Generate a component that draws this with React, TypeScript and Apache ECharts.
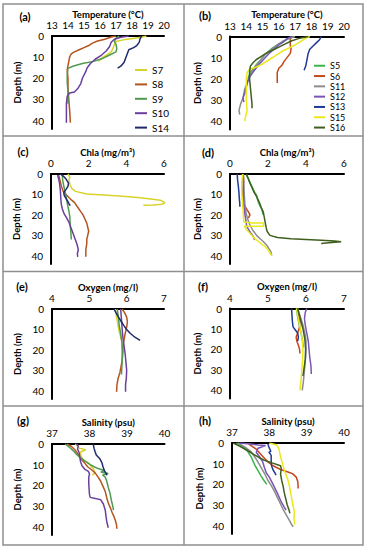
import React, { useEffect, useRef } from "react";
import * as echarts from "echarts";

// ---------- Data: [value, depth (m)] ----------
// Temperature (°C) – panel (a)
const tempS7 = [[18.9,0],[18.6,0.6],[17.6,1.6],[17.0,2.6],[16.9,4],[16.8,6],[16.7,7.5],[16.4,9],[16.1,10.5],[15.9,12]];
const tempS8 = [[17.0,0],[16.7,0.5],[16.3,1.5],[15.8,2.5],[15.5,3.5],[15.3,4.5],[15.0,5.5],[14.7,6.5],[14.4,7.5],[14.2,8.5],[14.1,10],[14.05,12],[14.0,14],[13.95,16],[14.0,20],[14.0,25],[14.05,30],[14.1,35],[14.15,41]];
const tempS9 = [[17.2,0],[17.0,1],[16.9,2.5],[17.0,4],[17.05,6],[17.0,7.5],[16.6,9],[16.2,10.5],[15.6,12],[14.9,13],[14.3,14.3],[14.0,15.3],[13.95,18],[13.95,22],[14.0,26],[14.0,32]];
const tempS10 = [[17.8,0],[17.3,0.6],[16.9,1.5],[16.7,3],[16.6,5],[16.4,7],[16.1,9],[15.7,11],[15.4,13],[15.2,15],[15.1,17],[14.9,20],[14.8,22.5],[14.6,25],[14.4,26.5],[14.1,27],[13.95,28.5],[13.9,32],[13.9,36],[13.9,41]];
const tempS14 = [[18.6,0],[18.5,1.5],[18.45,3],[18.3,4.5],[18.1,5.5],[17.8,6.5],[17.7,8.5],[17.6,10.5],[17.5,12.5],[17.3,14.3],[17.1,15.2]];
// Temperature – panel (b)
const tempS5 = [[16.9,0],[16.6,1],[16.2,2.5],[15.9,4],[15.6,5.5],[15.3,7.5],[15.1,9],[14.9,11],[14.7,12.5],[14.5,14.5],[14.3,16.5],[14.2,18],[14.1,20]];
const tempS6 = [[16.8,0],[16.7,1.5],[16.7,4],[16.75,6],[16.7,8],[16.5,10],[16.3,12],[16.2,13.5],[16.0,15],[15.9,17],[15.9,19.5],[15.9,22]];
const tempS11 = [[17.0,0],[16.6,1],[16.2,2.5],[15.8,4.5],[15.4,7],[15.1,9],[14.8,12],[14.5,15],[14.3,18],[14.1,21],[13.9,25],[13.8,29],[13.65,32],[13.55,35],[13.6,37]];
const tempS12 = [[16.8,0],[16.5,1],[16.3,2.5],[16.0,4],[15.7,6],[15.4,8],[15.1,10.5],[14.8,13],[14.6,15],[14.4,17],[14.2,19],[14.1,21],[14.0,24],[13.9,27],[13.8,29],[13.85,31]];
const tempS13 = [[18.6,0],[18.5,1.5],[18.3,3],[18.1,4.5],[17.9,6],[17.8,8],[17.75,10],[17.7,12],[17.65,14],[17.55,16]];
const tempS15 = [[17.9,0],[17.6,1],[17.3,2.5],[17.0,4],[16.6,5.5],[16.2,7],[15.8,9],[15.4,11],[15.0,13],[14.6,14.5],[14.2,15.5],[14.05,17],[14.0,20],[14.0,25],[14.0,30],[14.05,35],[13.95,38],[13.9,40]];
const tempS16 = [[17.8,0],[17.2,1],[16.8,2],[16.4,3.5],[16.0,5],[15.6,6.5],[15.2,8],[14.9,9.5],[14.6,11],[14.4,12.5],[14.25,14],[14.2,17],[14.2,20],[14.25,24],[14.3,28],[14.35,32],[14.35,34]];

// Chla (mg/m3) – panel (c)
const chlaS7 = [[0.9,0],[1.0,1.5],[0.95,3],[1.0,5],[1.1,7],[1.3,8.5],[1.9,9.8],[3.0,10.4],[3.8,10.9],[4.6,11.5],[5.3,12.2],[5.8,12.8],[6.05,14],[5.9,14.8],[5.4,15.2],[4.9,15.3]];
const chlaS8 = [[0.4,0.5],[0.45,2],[0.5,4],[0.55,6],[0.65,8.5],[0.8,10],[0.95,11.5],[1.1,12.8],[1.25,14],[1.4,16],[1.55,18],[1.7,20],[1.8,22],[1.9,24],[1.95,26],[2.0,28],[1.95,30],[1.9,32],[1.9,34],[1.85,37],[1.85,40.5]];
const chlaS9 = [[0.6,0.5],[0.62,3],[0.68,6],[0.75,9],[0.8,11],[0.85,13.5],[0.9,16],[0.95,18],[1.0,21],[1.02,25],[1.05,28],[1.08,32]];
const chlaS10 = [[0.35,0.5],[0.42,3],[0.46,5],[0.5,8.5],[0.52,12],[0.55,15],[0.6,17],[0.7,19.5],[0.8,21],[0.95,23.5],[1.05,26],[1.15,28.5],[1.25,31],[1.33,33],[1.4,35],[1.45,37],[1.4,39],[1.42,40.5]];
const chlaS14 = [[0.5,0],[0.65,1],[0.8,2.5],[0.93,4.5],[0.9,6],[0.8,7.5],[0.68,9],[0.7,10.5],[0.8,12],[0.9,13.5],[0.95,14.5],[1.02,15.5]];
// Chla – panel (d)
const chlaS5 = [[0.85,0.5],[0.95,2],[1.05,4],[1.15,6],[1.22,7.5],[1.3,9],[1.4,10.5],[1.45,12.5],[1.5,14],[1.6,16],[1.68,17.5],[1.72,19],[1.75,20]];
const chlaS6 = [[0.7,0],[0.72,3],[0.7,7],[0.67,10],[0.66,12.5],[0.72,14.5],[0.8,16],[0.9,17.5],[1.0,19],[1.05,20],[0.97,21.5]];
const chlaS11 = [[0.7,0],[0.73,5],[0.75,10],[0.78,14],[0.8,17],[0.87,20],[0.95,22.5],[1.05,25],[1.2,27.5],[1.4,30],[1.6,31.8],[1.75,33],[1.95,35],[2.05,36.5],[2.15,38],[2.2,39.8]];
const chlaS12 = [[0.66,0],[0.7,5],[0.7,10],[0.72,15],[0.79,20],[0.84,23],[0.88,25.5],[1.0,27.5],[1.1,29],[1.22,30.5],[1.3,32.3]];
const chlaS13 = [[0.38,0],[0.4,3],[0.44,6],[0.47,9],[0.49,12],[0.51,14],[0.52,16]];
const chlaS15 = [[0.66,0],[0.62,4],[0.61,7],[0.63,10],[0.66,13.5],[0.68,17],[0.7,20],[0.73,23.5],[1.2,24],[1.75,24],[1.78,25.5],[0.75,25.5],[0.85,27],[1.0,28.5],[1.14,30],[1.35,32],[1.5,33],[1.7,34.5],[1.85,35.5],[2.0,37],[2.1,38.5],[2.2,40]];
const chlaS16 = [[0.87,0],[0.95,2],[1.05,4.5],[1.15,6.5],[1.22,8],[1.3,9.5],[1.4,11],[1.5,13],[1.57,14.5],[1.65,16.5],[1.75,18.5],[1.8,21],[1.84,23],[1.9,26],[1.95,28],[2.1,30],[2.5,31],[3.2,31.7],[4.0,32],[4.8,32.4],[5.5,32.8],[5.85,33.1],[5.2,33.6],[4.8,34]];

// Oxygen (mg/l) – panel (e)
const oxyS7 = [[5.7,0],[5.72,3],[5.75,6],[5.78,9],[5.8,11],[5.83,13],[5.85,15]];
const oxyS8 = [[5.88,0],[5.95,2],[6.0,4],[6.02,6],[6.0,9],[5.96,12],[5.93,15],[5.9,18],[5.9,21],[5.88,25],[5.85,28],[5.82,31],[5.77,34],[5.74,37],[5.73,40.5]];
const oxyS9 = [[5.75,0],[5.78,4],[5.8,8],[5.84,12],[5.87,16],[5.88,20],[5.88,25],[5.87,29],[5.86,32]];
const oxyS10 = [[5.84,0],[5.86,5],[5.88,10],[5.9,14],[5.93,18],[5.96,22],[5.98,26],[6.0,30],[5.99,34],[5.97,37],[5.97,40.5]];
const oxyS14 = [[5.66,0],[5.72,2],[5.78,4],[5.85,6],[5.92,8],[6.0,10],[6.1,12],[6.22,13.8],[6.36,15.3]];
// Oxygen – panel (f)
const oxyS5 = [[5.75,0],[5.78,4],[5.82,8],[5.87,12],[5.91,16],[5.93,19]];
const oxyS6 = [[5.78,0],[5.8,3],[5.84,6],[5.83,9],[5.78,12],[5.74,14],[5.76,16],[5.8,18],[5.83,20],[5.84,22]];
const oxyS11 = [[5.78,0],[5.85,4],[5.92,8],[5.97,12],[6.0,16],[6.0,20],[5.99,24],[5.97,28],[5.95,32],[5.93,36],[5.9,40]];
const oxyS12 = [[6.02,0],[5.98,2],[5.96,5],[5.98,8],[6.02,12],[6.06,16],[6.08,20],[6.1,24],[6.13,28],[6.14,32]];
const oxyS13 = [[5.62,0],[5.63,3],[5.64,6],[5.66,9],[5.72,10.5],[5.78,12],[5.8,14],[5.78,16]];
const oxyS15 = [[5.75,0],[5.8,5],[5.85,10],[5.9,15],[5.92,20],[5.91,25],[5.89,30],[5.87,35],[5.84,40]];
const oxyS16 = [[5.78,0],[5.85,5],[5.92,10],[5.97,15],[5.99,20],[5.98,25],[5.95,29],[5.92,33]];

// Salinity (psu) – panel (g)
const salS7 = [[37.62,0],[37.68,1],[37.72,2],[37.9,2.8],[37.75,4],[37.78,6],[37.84,7.8],[37.98,9.3],[38.03,10.5],[38.1,12],[38.15,14],[38.07,15]];
const salS8 = [[37.4,0],[37.52,1.2],[37.62,3],[37.7,5],[37.76,7],[37.86,9],[37.95,11],[38.08,12.8],[38.16,14.2],[38.23,16],[38.3,18],[38.36,20.5],[38.42,23],[38.46,26],[38.5,28.5],[38.56,31],[38.6,33],[38.65,35],[38.69,37],[38.72,39],[38.73,41]];
const salS9 = [[37.35,0],[37.48,1.8],[37.58,3.5],[37.67,5.3],[37.78,7],[37.9,8.5],[38.02,10],[38.12,11],[38.25,12],[38.4,12.8],[38.3,13.6],[38.5,14.3],[38.35,15],[38.42,16],[38.46,18],[38.5,21],[38.55,24],[38.58,27],[38.62,30],[38.64,32]];
const salS10 = [[37.65,0],[37.7,1],[37.68,2.5],[37.72,4],[37.74,6],[37.76,8.5],[37.8,10.5],[37.88,12.3],[37.97,13.2],[38.0,14.5],[37.98,16],[37.98,19],[37.99,22],[38.0,24.5],[38.02,25.8],[38.15,26.3],[38.3,27],[38.37,29],[38.42,32],[38.44,35],[38.46,37.5],[38.5,40.5]];
const salS14 = [[38.1,0],[38.12,2],[38.15,3.7],[38.18,5.3],[38.27,7],[38.33,9],[38.36,11],[38.4,13],[38.45,14.3],[38.46,15.2]];
// Salinity – panel (h)
const salS5 = [[37.12,0],[37.3,2],[37.42,4],[37.52,7],[37.58,9.5],[37.62,11],[37.7,13.5],[37.78,16],[37.87,18.5],[37.93,20]];
const salS6 = [[37.45,0.5],[37.65,3],[37.8,6],[37.95,9],[38.1,11],[38.3,12.8],[38.5,14],[38.62,14.8],[38.72,16.5],[38.76,18.5],[38.77,20.5],[38.77,22]];
const salS11 = [[37.16,0],[37.35,2],[37.5,4],[37.62,7],[37.72,10],[37.8,12.5],[37.88,15],[37.96,18],[38.05,20.5],[38.14,23.5],[38.22,26.5],[38.3,29.5],[38.38,32.5],[38.46,35],[38.54,37.5],[38.6,39.5],[38.64,40.5]];
const salS12 = [[37.2,0],[37.5,0.5],[37.7,1],[37.9,1.2],[37.7,2.5],[37.65,4.5],[37.75,7],[37.82,9],[37.87,12],[37.92,14.5],[38.0,16.5],[38.1,20],[38.22,24.5],[38.32,28.5],[38.4,31],[38.45,32.5]];
const salS13 = [[37.96,0.5],[38.0,2.5],[38.04,4],[37.99,4.5],[38.05,6],[38.05,9],[38.06,11],[38.1,13],[38.15,14.5],[38.18,15.5]];
const salS15 = [[38.0,0],[38.2,1],[38.26,3],[38.28,5],[38.32,8],[38.36,10.5],[38.4,13],[38.45,15.5],[38.5,18],[38.54,21],[38.57,24],[38.6,27],[38.63,30],[38.67,33],[38.66,36],[38.68,39.5]];
const salS16 = [[37.03,0],[37.2,1.5],[37.4,3.5],[37.58,5.5],[37.72,7],[37.85,8.2],[38.05,9.5],[38.3,11],[38.32,12.5],[38.3,15],[38.33,18],[38.37,21],[38.4,24],[38.44,27],[38.48,30],[38.53,32.5],[38.55,34]];

// Stations and axis settings
const stationsLeft = ["S7", "S8", "S9", "S10", "S14"];
const stationsRight = ["S5", "S6", "S11", "S12", "S13", "S15", "S16"];
const panelLetters = ["(a)", "(b)", "(c)", "(d)", "(e)", "(f)", "(g)", "(h)"];
const axisTitles = ["Temperature (°C)", "Chla (mg/m³)", "Oxygen (mg/l)", "Salinity (psu)"];
const axisMin = [13, 0, 4, 37];
const axisMax = [20, 6, 7, 40];
const axisStep = [1, 2, 1, 1];
const depthMax = 44;
const depthStep = 10;

const colors: Record<string, string> = {
  S7: "#d9d22a", S8: "#b4541f", S9: "#4f9a4f", S10: "#6a3f9e", S14: "#1e2a6c",
  S5: "#3db44b", S6: "#c4471c", S11: "#8c8c8c", S12: "#7a55b6", S13: "#1f3a94",
  S15: "#ebe81c", S16: "#3f5f1f",
};

const leftData = [
  [tempS7, tempS8, tempS9, tempS10, tempS14],
  [chlaS7, chlaS8, chlaS9, chlaS10, chlaS14],
  [oxyS7, oxyS8, oxyS9, oxyS10, oxyS14],
  [salS7, salS8, salS9, salS10, salS14],
];
const rightData = [
  [tempS5, tempS6, tempS11, tempS12, tempS13, tempS15, tempS16],
  [chlaS5, chlaS6, chlaS11, chlaS12, chlaS13, chlaS15, chlaS16],
  [oxyS5, oxyS6, oxyS11, oxyS12, oxyS13, oxyS15, oxyS16],
  [salS5, salS6, salS11, salS12, salS13, salS15, salS16],
];

const FONT = "Lato, 'Open Sans', sans-serif";

const grids = [
  { left: 52, top: 36, width: 112, height: 93 },
  { left: 230, top: 36.5, width: 114, height: 93 },
  { left: 51, top: 174, width: 113, height: 90 },
  { left: 230, top: 174, width: 114, height: 90 },
  { left: 52, top: 309, width: 112, height: 90 },
  { left: 230, top: 308.5, width: 114, height: 90 },
  { left: 52, top: 444, width: 112.5, height: 91 },
  { left: 232, top: 443, width: 112, height: 91 },
];
const letterPos = [
  [25, 16], [205, 15], [23, 151], [208, 152], [22, 286], [203, 286], [23, 420], [205, 420],
];

function buildOption() {
  const xAxis: any[] = [];
  const yAxis: any[] = [];
  const series: any[] = [];
  grids.forEach((g, i) => {
    const row = Math.floor(i / 2);
    xAxis.push({
      gridIndex: i,
      type: "value",
      position: "top",
      min: axisMin[row],
      max: axisMax[row],
      interval: axisStep[row],
      axisLine: { show: true, onZero: false, lineStyle: { color: "#000", width: 2 } },
      axisTick: { show: false },
      splitLine: { show: false },
      axisLabel: { color: "#000", fontSize: 10, margin: 6, fontFamily: FONT },
      name: axisTitles[row],
      nameLocation: "middle",
      nameGap: 17,
      nameTextStyle: { color: "#000", fontSize: 9.5, fontWeight: "bold", fontFamily: FONT },
    });
    yAxis.push({
      gridIndex: i,
      type: "value",
      inverse: true,
      min: 0,
      max: depthMax,
      interval: depthStep,
      axisLine: { show: true, onZero: false, lineStyle: { color: "#000", width: 2 } },
      axisTick: { show: false },
      splitLine: { show: false },
      axisLabel: {
        color: "#000", fontSize: 10, margin: 8, fontFamily: FONT,
        formatter: (v: number) => (v % depthStep === 0 ? String(v) : ""),
      },
      name: "Depth (m)",
      nameLocation: "middle",
      nameGap: i % 2 === 0 ? 30 : 28,
      nameRotate: 90,
      nameTextStyle: { color: "#000", fontSize: 9.5, fontWeight: "bold", fontFamily: FONT },
    });
    const names = i % 2 === 0 ? stationsLeft : stationsRight;
    const data = i % 2 === 0 ? leftData[row] : rightData[row];
    names.forEach((n, k) => {
      series.push({
        type: "line",
        name: n,
        xAxisIndex: i,
        yAxisIndex: i,
        data: data[k],
        symbol: "none",
        silent: true,
        lineStyle: { color: colors[n], width: 1.5 },
        itemStyle: { color: colors[n] },
      });
    });
  });

  const graphic: any[] = [
    { type: "rect", shape: { x: 3, y: 4, width: 360, height: 541 }, style: { fill: "none", stroke: "#8f8f8f", lineWidth: 1.5 }, silent: true },
    { type: "line", shape: { x1: 184, y1: 4, x2: 184, y2: 545 }, style: { stroke: "#8f8f8f", lineWidth: 1.5 }, silent: true },
    { type: "line", shape: { x1: 3, y1: 136, x2: 363, y2: 136 }, style: { stroke: "#8f8f8f", lineWidth: 1.5 }, silent: true },
    { type: "line", shape: { x1: 3, y1: 271.5, x2: 363, y2: 271.5 }, style: { stroke: "#8f8f8f", lineWidth: 1.5 }, silent: true },
    { type: "line", shape: { x1: 3, y1: 406, x2: 363, y2: 406 }, style: { stroke: "#8f8f8f", lineWidth: 1.5 }, silent: true },
  ];
  panelLetters.forEach((t, i) => {
    graphic.push({
      type: "text",
      x: letterPos[i][0],
      y: letterPos[i][1],
      style: { text: t, fill: "#000", font: `bold 11px ${FONT}`, align: "center", verticalAlign: "middle" },
      silent: true,
    });
  });

  return {
    animation: false,
    backgroundColor: "#fff",
    grid: grids.map((g) => ({ ...g, containLabel: false })),
    xAxis,
    yAxis,
    series,
    graphic,
    legend: [
      {
        data: stationsLeft,
        orient: "vertical",
        left: 135,
        top: 64,
        padding: 0,
        itemWidth: 12,
        itemHeight: 2,
        itemGap: 2.4,
        icon: "rect",
        selectedMode: false,
        textStyle: { color: "#000", fontSize: 10, lineHeight: 12, fontFamily: FONT },
      },
      {
        data: stationsRight,
        orient: "vertical",
        left: 314,
        top: 61,
        padding: 0,
        itemWidth: 11,
        itemHeight: 2,
        itemGap: 0.8,
        icon: "rect",
        selectedMode: false,
        textStyle: { color: "#000", fontSize: 9, lineHeight: 9.5, fontFamily: FONT },
      },
    ],
  };
}

export default function App() {
  const ref = useRef<HTMLDivElement>(null);
  useEffect(() => {
    if (!ref.current) return;
    const chart = echarts.init(ref.current, null, { renderer: "svg" });
    chart.setOption(buildOption() as any);
    return () => chart.dispose();
  }, []);
  return (
    <div
      ref={ref}
      style={{ position: "absolute", left: 0, top: 0, width: 367, height: 550, background: "#fff" }}
    />
  );
}
